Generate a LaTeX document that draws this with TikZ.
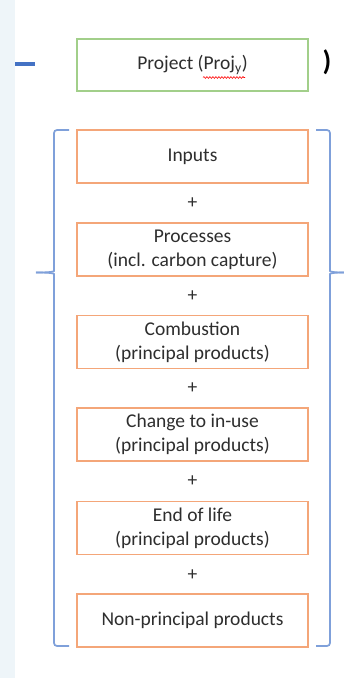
\documentclass[tikz,border=0pt]{standalone}
\usepackage{fontspec}
\setmainfont{Carlito}
\usepackage{tikz}
\usetikzlibrary{decorations.pathmorphing}
\definecolor{txtgray}{HTML}{2E2E2E}
\definecolor{boxorange}{HTML}{F4A679}
\definecolor{boxgreen}{HTML}{A2CF8A}
\definecolor{bracketblue}{HTML}{7FA0DA}
\definecolor{dashblue}{HTML}{4472C4}
\definecolor{stripblue}{HTML}{EEF5F9}
\tikzstyle{part} = [draw=boxorange,line width=1.5pt,minimum width=231pt,minimum height=53pt,align=center,text=txtgray,inner sep=2]
\tikzstyle{proj} = [part,draw=boxgreen,minimum height=52pt]
\tikzstyle{plus} = [text=txtgray,inner sep=1]
\tikzstyle{bracket} = [draw=bracketblue,line width=1.7pt,rounded corners=3pt]

\begin{document}
\begin{tikzpicture}[x=1pt,y=-1pt,font=\fontsize{19.5}{24}\selectfont]

    \fill[white] (0,0) rectangle (344,678);
    \fill[stripblue] (0,0) rectangle (15,678);
    \useasboundingbox (0,0) rectangle (344,678);

    \node[proj] (project) at (192.5,65.0) {Project (Proj\textsubscript{y})};
    \draw[red,line width=0.6pt,decorate,decoration={snake,amplitude=0.9pt,segment length=3pt}]
        (project.center) ++(10.5,12.5) -- ++(42,0);
    \coordinate (dashl) at (15,64.0);
    \coordinate (dashr) at (35,64.0);
    \draw[dashblue,line width=4pt] (dashl) -- (dashr);
    \node[inner sep=0,font=\fontsize{28}{32}\selectfont\bfseries] (close) at (327,62.0) {)};

    \node[part] (inputs) at (192.5,156.5) {Inputs};
    \node[plus] (p1) at (192.5,203.0) {+};
    \node[part] (processes) at (192.5,249.5) {Processes\\(incl. carbon capture)};
    \node[plus] (p2) at (192.5,296.0) {+};
    \node[part] (combustion) at (192.5,342.0) {Combustion\\(principal products)};
    \node[plus] (p3) at (192.5,388.0) {+};
    \node[part] (inuse) at (192.5,434.5) {Change to in-use\\(principal products)};
    \node[plus] (p4) at (192.5,481.0) {+};
    \node[part] (endlife) at (192.5,528.0) {End of life\\(principal products)};
    \node[plus] (p5) at (192.5,575.0) {+};
    \node[part] (nonprin) at (192.5,620.5) {Non-principal products};

    % left bracket
    \draw[bracket] (69,130) -- (54,130) -- (54,268)
        .. controls (54,271.5) and (51,272.5) .. (36,272.5);
    \draw[bracket] (36,272.5) .. controls (51,272.5) and (54,273.5) .. (54,277)
        -- (54,646) -- (69,646);

    % right bracket
    \draw[bracket] (316,130) -- (330,130) -- (330,268)
        .. controls (330,271.5) and (333,272.5) .. (344,272.5);
    \draw[bracket] (344,272.5) .. controls (333,272.5) and (330,273.5) .. (330,277)
        -- (330,646) -- (316,646);

\end{tikzpicture}
\end{document}
